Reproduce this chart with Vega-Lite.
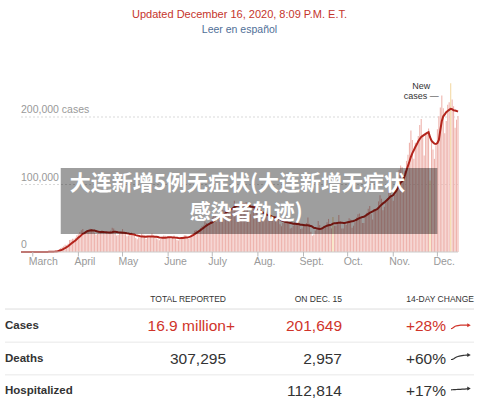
{
"$schema": "https://vega.github.io/schema/vega-lite/v6.json",
"width": 500, "height": 403, "autosize": {"type": "none"}, "padding": 0, "background": "white",
"config": {"view": {"stroke": null}, "axis": {"disable": true}, "legend": {"disable": true}, "font": "Liberation Sans"},
"datasets": {
"days": [
{"d":"2020-02-22","c":0,"a":0},{"d":"2020-02-23","c":0,"a":0},{"d":"2020-02-24","c":1,"a":0},{"d":"2020-02-25","c":0,"a":0},{"d":"2020-02-26","c":2,"a":0},{"d":"2020-02-27","c":3,"a":1},{"d":"2020-02-28","c":3,"a":1},{"d":"2020-02-29","c":9,"a":2},
{"d":"2020-03-01","c":10,"a":4},{"d":"2020-03-02","c":20,"a":7},{"d":"2020-03-03","c":24,"a":10},{"d":"2020-03-04","c":22,"a":13},{"d":"2020-03-05","c":73,"a":23},{"d":"2020-03-06","c":70,"a":33},{"d":"2020-03-07","c":100,"a":46},{"d":"2020-03-08","c":120,"a":61},{"d":"2020-03-09","c":180,"a":84},{"d":"2020-03-10","c":290,"a":122},{"d":"2020-03-11","c":360,"a":170},{"d":"2020-03-12","c":470,"a":227},{"d":"2020-03-13","c":660,"a":311},{"d":"2020-03-14","c":720,"a":400},{"d":"2020-03-15","c":1000,"a":526},{"d":"2020-03-16","c":1300,"a":686},{"d":"2020-03-17","c":1800,"a":901},{"d":"2020-03-18","c":2800,"a":1250},{"d":"2020-03-19","c":4600,"a":1840},{"d":"2020-03-20","c":5900,"a":2589},{"d":"2020-03-21","c":6900,"a":3471},{"d":"2020-03-22","c":8700,"a":4571},{"d":"2020-03-23","c":10600,"a":5900},{"d":"2020-03-24","c":10100,"a":7086},{"d":"2020-03-25","c":12400,"a":8457},{"d":"2020-03-26","c":17800,"a":10343},{"d":"2020-03-27","c":18300,"a":12114},{"d":"2020-03-28","c":19600,"a":13929},{"d":"2020-03-29","c":19800,"a":15514},{"d":"2020-03-30","c":21000,"a":17000},{"d":"2020-03-31","c":24900,"a":19114},
{"d":"2020-04-01","c":26200,"a":21300},{"d":"2020-04-02","c":29700,"a":23000},{"d":"2020-04-03","c":32100,"a":25000},{"d":"2020-04-04","c":33900,"a":27000},{"d":"2020-04-05","c":28400,"a":28100},{"d":"2020-04-06","c":29600,"a":29500},{"d":"2020-04-07","c":31800,"a":30800},{"d":"2020-04-08","c":32300,"a":31600},{"d":"2020-04-09","c":34500,"a":32000},{"d":"2020-04-10","c":34100,"a":32300},{"d":"2020-04-11","c":30600,"a":31900},{"d":"2020-04-12","c":28400,"a":31800},{"d":"2020-04-13","c":25500,"a":31000},{"d":"2020-04-14","c":26900,"a":30300},{"d":"2020-04-15","c":29700,"a":29900},{"d":"2020-04-16","c":31100,"a":29700},{"d":"2020-04-17","c":32100,"a":29600},{"d":"2020-04-18","c":29800,"a":29500},{"d":"2020-04-19","c":26900,"a":29300},{"d":"2020-04-20","c":28000,"a":29400},{"d":"2020-04-21","c":26800,"a":28900},{"d":"2020-04-22","c":29200,"a":28800},{"d":"2020-04-23","c":31900,"a":28900},{"d":"2020-04-24","c":36100,"a":29300},{"d":"2020-04-25","c":34800,"a":30000},{"d":"2020-04-26","c":28300,"a":30000},{"d":"2020-04-27","c":24600,"a":29700},{"d":"2020-04-28","c":25100,"a":29300},{"d":"2020-04-29","c":27400,"a":29000},{"d":"2020-04-30","c":29600,"a":28800},
{"d":"2020-05-01","c":33900,"a":28600},{"d":"2020-05-02","c":28800,"a":28400},{"d":"2020-05-03","c":26600,"a":28200},{"d":"2020-05-04","c":23400,"a":27700},{"d":"2020-05-05","c":24300,"a":27300},{"d":"2020-05-06","c":25400,"a":26700},{"d":"2020-05-07","c":28800,"a":26700},{"d":"2020-05-08","c":27600,"a":26100},{"d":"2020-05-09","c":25700,"a":25800},{"d":"2020-05-10","c":20600,"a":25000},{"d":"2020-05-11","c":18800,"a":24300},{"d":"2020-05-12","c":22000,"a":23900},{"d":"2020-05-13","c":21500,"a":23300},{"d":"2020-05-14","c":27100,"a":23100},{"d":"2020-05-15","c":25600,"a":22800},{"d":"2020-05-16","c":24800,"a":22700},{"d":"2020-05-17","c":19100,"a":22500},{"d":"2020-05-18","c":22600,"a":23000},{"d":"2020-05-19","c":21100,"a":22900},{"d":"2020-05-20","c":22700,"a":23000},{"d":"2020-05-21","c":27300,"a":23000},{"d":"2020-05-22","c":24100,"a":22800},{"d":"2020-05-23","c":23200,"a":22600},{"d":"2020-05-24","c":19900,"a":22700},{"d":"2020-05-25","c":18900,"a":22100},{"d":"2020-05-26","c":17500,"a":21400},{"d":"2020-05-27","c":19800,"a":21300},{"d":"2020-05-28","c":22700,"a":21000},{"d":"2020-05-29","c":24500,"a":21000},{"d":"2020-05-30","c":24200,"a":21200},{"d":"2020-05-31","c":20900,"a":21400},
{"d":"2020-06-01","c":20700,"a":21800},{"d":"2020-06-02","c":21300,"a":21800},{"d":"2020-06-03","c":19500,"a":21800},{"d":"2020-06-04","c":21600,"a":21500},{"d":"2020-06-05","c":24600,"a":21500},{"d":"2020-06-06","c":22300,"a":21300},{"d":"2020-06-07","c":17900,"a":21000},{"d":"2020-06-08","c":17200,"a":20700},{"d":"2020-06-09","c":18100,"a":20500},{"d":"2020-06-10","c":20900,"a":20700},{"d":"2020-06-11","c":22500,"a":20900},{"d":"2020-06-12","c":24900,"a":21200},{"d":"2020-06-13","c":25000,"a":21400},{"d":"2020-06-14","c":19900,"a":21600},{"d":"2020-06-15","c":19700,"a":22000},{"d":"2020-06-16","c":23300,"a":22800},{"d":"2020-06-17","c":25900,"a":23800},{"d":"2020-06-18","c":27800,"a":25000},{"d":"2020-06-19","c":31400,"a":26500},{"d":"2020-06-20","c":32500,"a":28000},{"d":"2020-06-21","c":27700,"a":29500},{"d":"2020-06-22","c":29100,"a":31000},{"d":"2020-06-23","c":35600,"a":32500},{"d":"2020-06-24","c":38100,"a":34000},{"d":"2020-06-25","c":39400,"a":35700},{"d":"2020-06-26","c":45300,"a":37500},{"d":"2020-06-27","c":43100,"a":39000},{"d":"2020-06-28","c":40900,"a":40500},{"d":"2020-06-29","c":41400,"a":41800},{"d":"2020-06-30","c":45800,"a":43000},
{"d":"2020-07-01","c":51000,"a":44000},{"d":"2020-07-02","c":54000,"a":46000},{"d":"2020-07-03","c":57000,"a":48000},{"d":"2020-07-04","c":45000,"a":49000},{"d":"2020-07-05","c":49000,"a":50500},{"d":"2020-07-06","c":48000,"a":51500},{"d":"2020-07-07","c":58000,"a":52500},{"d":"2020-07-08","c":62000,"a":54000},{"d":"2020-07-09","c":62000,"a":55500},{"d":"2020-07-10","c":68000,"a":57500},{"d":"2020-07-11","c":62000,"a":59500},{"d":"2020-07-12","c":60000,"a":61000},{"d":"2020-07-13","c":59000,"a":62500},{"d":"2020-07-14","c":63000,"a":63500},{"d":"2020-07-15","c":67000,"a":64500},{"d":"2020-07-16","c":76000,"a":66500},{"d":"2020-07-17","c":71000,"a":68000},{"d":"2020-07-18","c":64000,"a":68500},{"d":"2020-07-19","c":62000,"a":69000},{"d":"2020-07-20","c":63000,"a":69500},{"d":"2020-07-21","c":66000,"a":70000},{"d":"2020-07-22","c":70000,"a":70500},{"d":"2020-07-23","c":70000,"a":70500},{"d":"2020-07-24","c":74000,"a":70000},{"d":"2020-07-25","c":67000,"a":69500},{"d":"2020-07-26","c":55000,"a":68500},{"d":"2020-07-27","c":56000,"a":67500},{"d":"2020-07-28","c":64000,"a":67000},{"d":"2020-07-29","c":70000,"a":66500},{"d":"2020-07-30","c":68000,"a":66000},{"d":"2020-07-31","c":68000,"a":65000},
{"d":"2020-08-01","c":58000,"a":63500},{"d":"2020-08-02","c":47000,"a":62000},{"d":"2020-08-03","c":47000,"a":60500},{"d":"2020-08-04","c":51000,"a":59000},{"d":"2020-08-05","c":53000,"a":57500},{"d":"2020-08-06","c":56000,"a":56500},{"d":"2020-08-07","c":60000,"a":55500},{"d":"2020-08-08","c":54000,"a":54500},{"d":"2020-08-09","c":46000,"a":54000},{"d":"2020-08-10","c":47000,"a":53000},{"d":"2020-08-11","c":50000,"a":52000},{"d":"2020-08-12","c":53000,"a":51500},{"d":"2020-08-13","c":51000,"a":51000},{"d":"2020-08-14","c":58000,"a":50500},{"d":"2020-08-15","c":52000,"a":49500},{"d":"2020-08-16","c":41000,"a":48500},{"d":"2020-08-17","c":38000,"a":47000},{"d":"2020-08-18","c":43000,"a":46000},{"d":"2020-08-19","c":46000,"a":45000},{"d":"2020-08-20","c":45000,"a":44500},{"d":"2020-08-21","c":48000,"a":44000},{"d":"2020-08-22","c":44000,"a":43500},{"d":"2020-08-23","c":35000,"a":43000},{"d":"2020-08-24","c":36000,"a":42500},{"d":"2020-08-25","c":39000,"a":42000},{"d":"2020-08-26","c":44000,"a":42000},{"d":"2020-08-27","c":45000,"a":41500},{"d":"2020-08-28","c":47000,"a":41500},{"d":"2020-08-29","c":43000,"a":41000},{"d":"2020-08-30","c":34000,"a":40500},{"d":"2020-08-31","c":35000,"a":40500},
{"d":"2020-09-01","c":41000,"a":40000},{"d":"2020-09-02","c":39000,"a":39500},{"d":"2020-09-03","c":43000,"a":39500},{"d":"2020-09-04","c":51000,"a":39500},{"d":"2020-09-05","c":42000,"a":39000},{"d":"2020-09-06","c":30000,"a":38500},{"d":"2020-09-07","c":24000,"a":37500},{"d":"2020-09-08","c":26000,"a":36000},{"d":"2020-09-09","c":32000,"a":35500},{"d":"2020-09-10","c":35000,"a":35000},{"d":"2020-09-11","c":46000,"a":34500},{"d":"2020-09-12","c":40000,"a":34000},{"d":"2020-09-13","c":33000,"a":34500},{"d":"2020-09-14","c":34000,"a":35500},{"d":"2020-09-15","c":39000,"a":37000},{"d":"2020-09-16","c":39000,"a":38000},{"d":"2020-09-17","c":44000,"a":39000},{"d":"2020-09-18","c":49000,"a":39500},{"d":"2020-09-19","c":42000,"a":40000},{"d":"2020-09-20","c":35000,"a":40500},{"d":"2020-09-21","c":52000,"a":42000,"x":1},{"d":"2020-09-22","c":39000,"a":42500},{"d":"2020-09-23","c":39000,"a":42500},{"d":"2020-09-24","c":44000,"a":43000},{"d":"2020-09-25","c":55000,"a":43500},{"d":"2020-09-26","c":46000,"a":43500},{"d":"2020-09-27","c":35000,"a":43500},{"d":"2020-09-28","c":35000,"a":43000},{"d":"2020-09-29","c":43000,"a":43000},{"d":"2020-09-30","c":40000,"a":43500},
{"d":"2020-10-01","c":45000,"a":44000},{"d":"2020-10-02","c":50000,"a":44500},{"d":"2020-10-03","c":48000,"a":45000},{"d":"2020-10-04","c":36000,"a":45500},{"d":"2020-10-05","c":39000,"a":46000},{"d":"2020-10-06","c":44000,"a":46800},{"d":"2020-10-07","c":51000,"a":47800},{"d":"2020-10-08","c":56000,"a":49000},{"d":"2020-10-09","c":57000,"a":50200},{"d":"2020-10-10","c":53000,"a":51000},{"d":"2020-10-11","c":43000,"a":51800},{"d":"2020-10-12","c":43000,"a":52300},{"d":"2020-10-13","c":52000,"a":53500},{"d":"2020-10-14","c":58000,"a":55000},{"d":"2020-10-15","c":64000,"a":56500},{"d":"2020-10-16","c":68000,"a":58000},{"d":"2020-10-17","c":56000,"a":59000},{"d":"2020-10-18","c":48000,"a":60000},{"d":"2020-10-19","c":63000,"a":61500},{"d":"2020-10-20","c":61000,"a":62500},{"d":"2020-10-21","c":63000,"a":63500},{"d":"2020-10-22","c":75000,"a":65500},{"d":"2020-10-23","c":84000,"a":68000},{"d":"2020-10-24","c":79000,"a":70000},{"d":"2020-10-25","c":62000,"a":72000},{"d":"2020-10-26","c":67000,"a":73500},{"d":"2020-10-27","c":74000,"a":75500},{"d":"2020-10-28","c":80000,"a":77500},{"d":"2020-10-29","c":91000,"a":79500},{"d":"2020-10-30","c":99000,"a":82000},{"d":"2020-10-31","c":84000,"a":83000},
{"d":"2020-11-01","c":76000,"a":84500},{"d":"2020-11-02","c":85000,"a":87500},{"d":"2020-11-03","c":92000,"a":90500},{"d":"2020-11-04","c":104000,"a":94500},{"d":"2020-11-05","c":122000,"a":99000},{"d":"2020-11-06","c":128000,"a":102500},{"d":"2020-11-07","c":126000,"a":104500},{"d":"2020-11-08","c":106000,"a":108000},{"d":"2020-11-09","c":120000,"a":114000},{"d":"2020-11-10","c":135000,"a":121000},{"d":"2020-11-11","c":144000,"a":127500},{"d":"2020-11-12","c":162000,"a":134000},{"d":"2020-11-13","c":180000,"a":141000},{"d":"2020-11-14","c":166000,"a":146500},{"d":"2020-11-15","c":138000,"a":151000},{"d":"2020-11-16","c":162000,"a":155500},{"d":"2020-11-17","c":160000,"a":159500},{"d":"2020-11-18","c":172000,"a":164000},{"d":"2020-11-19","c":188000,"a":167500},{"d":"2020-11-20","c":197000,"a":170500},{"d":"2020-11-21","c":173000,"a":172000},{"d":"2020-11-22","c":143000,"a":173500},{"d":"2020-11-23","c":174000,"a":175000},{"d":"2020-11-24","c":175000,"a":176500},{"d":"2020-11-25","c":183000,"a":177500},{"d":"2020-11-26","c":106000,"a":170000,"x":1},{"d":"2020-11-27","c":165000,"a":165000},{"d":"2020-11-28","c":152000,"a":162500},{"d":"2020-11-29","c":138000,"a":160500},{"d":"2020-11-30","c":158000,"a":160000},
{"d":"2020-12-01","c":182000,"a":161500},{"d":"2020-12-02","c":201000,"a":166000},{"d":"2020-12-03","c":214000,"a":181000},{"d":"2020-12-04","c":232000,"a":194000},{"d":"2020-12-05","c":213000,"a":201000},{"d":"2020-12-06","c":176000,"a":204000},{"d":"2020-12-07","c":194000,"a":207000},{"d":"2020-12-08","c":218000,"a":209000},{"d":"2020-12-09","c":222000,"a":210500},{"d":"2020-12-10","c":250000,"a":212000,"x":1},{"d":"2020-12-11","c":226000,"a":211500},{"d":"2020-12-12","c":216000,"a":210000},{"d":"2020-12-13","c":184000,"a":209500},{"d":"2020-12-14","c":196000,"a":209000},{"d":"2020-12-15","c":201649,"a":208000}
],
"months": [{"d":"2020-03-01","m":"March"},{"d":"2020-04-01","m":"April"},{"d":"2020-05-01","m":"May"},{"d":"2020-06-01","m":"June"},{"d":"2020-07-01","m":"July"},{"d":"2020-08-01","m":"Aug."},{"d":"2020-09-01","m":"Sept."},{"d":"2020-10-01","m":"Oct."},{"d":"2020-11-01","m":"Nov."},{"d":"2020-12-01","m":"Dec."}],
"ylabels": [{"v":0,"l":"0"},{"v":100000,"l":"100,000"},{"v":200000,"l":"200,000 cases"}],
"texts": [
{"k":"title","row":0,"col":2,"t":"Updated December 16, 2020, 8:09 P.M. E.T."},
{"k":"sub","row":1,"col":2,"t":"Leer en español"},
{"k":"head","row":2,"col":1,"t":"TOTAL REPORTED"},
{"k":"head","row":2,"col":3,"t":"ON DEC. 15"},
{"k":"head","row":2,"col":5,"t":"14-DAY CHANGE"},
{"k":"label","row":3,"col":0,"t":"Cases"},
{"k":"label","row":4,"col":0,"t":"Deaths"},
{"k":"label","row":5,"col":0,"t":"Hospitalized"},
{"k":"hang","row":3,"col":1,"t":"16.9 million+"},
{"k":"red","row":3,"col":3,"t":"201,649"},
{"k":"red","row":3,"col":4,"t":"+28%"},
{"k":"num","row":4,"col":1,"t":"307,295"},
{"k":"num","row":4,"col":3,"t":"2,957"},
{"k":"num","row":4,"col":4,"t":"+60%"},
{"k":"num","row":5,"col":3,"t":"112,814"},
{"k":"num","row":5,"col":4,"t":"+17%"}
],
"spark": [
{"m":"Cases","i":0,"v":161500},{"m":"Cases","i":1,"v":166000},{"m":"Cases","i":2,"v":181000},{"m":"Cases","i":3,"v":194000},{"m":"Cases","i":4,"v":201000},{"m":"Cases","i":5,"v":204000},{"m":"Cases","i":6,"v":207000},{"m":"Cases","i":7,"v":209000},{"m":"Cases","i":8,"v":210500},{"m":"Cases","i":9,"v":212000},{"m":"Cases","i":10,"v":211500},{"m":"Cases","i":11,"v":210000},{"m":"Cases","i":12,"v":209500},{"m":"Cases","i":13,"v":209000},
{"m":"Deaths","i":0,"v":1540},{"m":"Deaths","i":1,"v":1580},{"m":"Deaths","i":2,"v":1700},{"m":"Deaths","i":3,"v":1900},{"m":"Deaths","i":4,"v":2050},{"m":"Deaths","i":5,"v":2150},{"m":"Deaths","i":6,"v":2220},{"m":"Deaths","i":7,"v":2280},{"m":"Deaths","i":8,"v":2330},{"m":"Deaths","i":9,"v":2380},{"m":"Deaths","i":10,"v":2410},{"m":"Deaths","i":11,"v":2430},{"m":"Deaths","i":12,"v":2450},{"m":"Deaths","i":13,"v":2460},
{"m":"Hosp","i":0,"v":96400},{"m":"Hosp","i":1,"v":97000},{"m":"Hosp","i":2,"v":98500},{"m":"Hosp","i":3,"v":99500},{"m":"Hosp","i":4,"v":100500},{"m":"Hosp","i":5,"v":101500},{"m":"Hosp","i":6,"v":102500},{"m":"Hosp","i":7,"v":103500},{"m":"Hosp","i":8,"v":104500},{"m":"Hosp","i":9,"v":105500},{"m":"Hosp","i":10,"v":106500},{"m":"Hosp","i":11,"v":108000},{"m":"Hosp","i":12,"v":109500},{"m":"Hosp","i":13,"v":112800}
]
},
"resolve": {"scale": {"x": "independent", "y": "independent"}},
"layer": [
{
"layer": [
{"data": {"name": "ylabels"}, "transform": [{"filter": "datum.v > 0"}],
 "mark": {"type": "rule", "color": "#d9d9d9", "strokeDash": [2, 2], "strokeWidth": 1},
 "encoding": {
  "x": {"datum": {"year": 2020, "month": 2, "date": 22, "utc": true}, "type": "temporal", "axis": null,
        "scale": {"domain": [{"year": 2020, "month": 2, "date": 22, "utc": true}, {"year": 2020, "month": 12, "date": 15, "utc": true}], "range": [21, 458], "padding": 0}},
  "x2": {"datum": {"year": 2020, "month": 12, "date": 15, "utc": true}},
  "y": {"field": "v", "type": "quantitative", "axis": null, "scale": {"domain": [0, 100000], "range": [252, 184.5], "nice": false, "zero": false, "padding": 0}}
 }},
{"data": {"name": "days"}, "transform": [{"filter": "!datum.x"}],
 "mark": {"type": "bar", "color": "#eeb4ae", "width": 1.1},
 "encoding": {"x": {"field": "d", "type": "temporal"}, "y": {"field": "c", "type": "quantitative"}}},
{"data": {"name": "days"}, "transform": [{"filter": "datum.x"}],
 "mark": {"type": "bar", "color": "#f5dfb3", "width": 1.3},
 "encoding": {"x": {"field": "d", "type": "temporal"}, "y": {"field": "c", "type": "quantitative"}}},
{"data": {"name": "days"},
 "mark": {"type": "line", "color": "#b3241c", "strokeWidth": 2},
 "encoding": {"x": {"field": "d", "type": "temporal"}, "y": {"field": "a", "type": "quantitative"}}},
{"data": {"name": "ylabels"}, "transform": [{"filter": "datum.v == 0"}],
 "mark": {"type": "rule", "color": "#cccccc", "strokeWidth": 1},
 "encoding": {
  "x": {"datum": {"year": 2020, "month": 2, "date": 22, "utc": true}, "type": "temporal"},
  "x2": {"datum": {"year": 2020, "month": 12, "date": 15, "utc": true}},
  "y": {"field": "v", "type": "quantitative"}}},
{"data": {"name": "ylabels"},
 "mark": {"type": "text", "align": "left", "baseline": "alphabetic", "dy": -4, "fontSize": 10.5, "color": "#999999"},
 "encoding": {
  "x": {"datum": {"year": 2020, "month": 2, "date": 22, "utc": true}, "type": "temporal"},
  "y": {"field": "v", "type": "quantitative"},
  "text": {"field": "l"}}},
{"data": {"name": "months"},
 "mark": {"type": "rule", "color": "#bbbbbb", "strokeWidth": 1},
 "encoding": {"x": {"field": "d", "type": "temporal"}, "y": {"datum": 0, "type": "quantitative"}, "y2": {"datum": -6700}}},
{"data": {"name": "months"},
 "mark": {"type": "text", "align": "left", "baseline": "top", "dx": -4, "dy": 5, "fontSize": 10.5, "color": "#999999"},
 "encoding": {"x": {"field": "d", "type": "temporal"}, "y": {"datum": 0, "type": "quantitative"}, "text": {"field": "m"}}},
{"data": {"values": [{"t": "New", "d": "2020-11-20", "v": 241500}, {"t": "cases —", "d": "2020-11-20", "v": 226700}]},
 "mark": {"type": "text", "align": "center", "baseline": "alphabetic", "fontSize": 9, "color": "#333333"},
 "encoding": {"x": {"field": "d", "type": "temporal"}, "y": {"field": "v", "type": "quantitative"}, "text": {"field": "t"}}},
{"data": {"values": [{"d1": "2020-03-20", "d2": "2020-12-01", "v1": 26700, "v2": 124400}]},
 "mark": {"type": "rect", "color": "#000000", "opacity": 0.38},
 "encoding": {"x": {"field": "d1", "type": "temporal"}, "x2": {"field": "d2"}, "y": {"field": "v1", "type": "quantitative"}, "y2": {"field": "v2"}}},
{"data": {"values": [{"t": "大连新增5例无症状(大连新增无症状", "d": "2020-07-18", "v": 100700}, {"t": "感染者轨迹)", "d": "2020-07-24", "v": 57800}]},
 "mark": {"type": "text", "align": "center", "baseline": "middle", "font": "Noto Sans CJK SC", "fontWeight": "bold", "fontSize": 21, "color": "#ffffff"},
 "encoding": {"x": {"field": "d", "type": "temporal"}, "y": {"field": "v", "type": "quantitative"}, "text": {"field": "t"}}}
]
},
{
"data": {"name": "texts"},
"layer": [
{"transform": [{"filter": "datum.k == 'title'"}],
 "mark": {"type": "text", "align": "center", "baseline": "middle", "fontSize": 11, "color": "#c5352c"},
 "encoding": {
  "x": {"field": "col", "type": "quantitative", "axis": null, "scale": {"domain": [0, 1, 2, 3, 4, 5], "range": [5, 226, 239.5, 342, 446, 474], "nice": false, "zero": false}},
  "y": {"field": "row", "type": "quantitative", "axis": null, "scale": {"domain": [0, 1, 2, 3, 4, 5], "range": [14.5, 29.8, 299.3, 325.6, 358.7, 391], "nice": false, "zero": false}},
  "text": {"field": "t"}}},
{"transform": [{"filter": "datum.k == 'sub'"}],
 "mark": {"type": "text", "align": "center", "baseline": "middle", "fontSize": 10.5, "color": "#4f6f98"},
 "encoding": {"x": {"field": "col", "type": "quantitative"}, "y": {"field": "row", "type": "quantitative"}, "text": {"field": "t"}}},
{"transform": [{"filter": "datum.k == 'head'"}],
 "mark": {"type": "text", "align": "right", "baseline": "middle", "fontSize": 8.5, "color": "#333333"},
 "encoding": {"x": {"field": "col", "type": "quantitative"}, "y": {"field": "row", "type": "quantitative"}, "text": {"field": "t"}}},
{"transform": [{"filter": "datum.k == 'label'"}],
 "mark": {"type": "text", "align": "left", "baseline": "middle", "fontSize": 11.5, "fontWeight": "bold", "color": "#333333"},
 "encoding": {"x": {"field": "col", "type": "quantitative"}, "y": {"field": "row", "type": "quantitative"}, "text": {"field": "t"}}},
{"transform": [{"filter": "datum.k == 'hang'"}],
 "mark": {"type": "text", "align": "right", "baseline": "middle", "fontSize": 15.5, "dx": 9, "color": "#d0342a"},
 "encoding": {"x": {"field": "col", "type": "quantitative"}, "y": {"field": "row", "type": "quantitative"}, "text": {"field": "t"}}},
{"transform": [{"filter": "datum.k == 'red'"}],
 "mark": {"type": "text", "align": "right", "baseline": "middle", "fontSize": 15.5, "color": "#d0342a"},
 "encoding": {"x": {"field": "col", "type": "quantitative"}, "y": {"field": "row", "type": "quantitative"}, "text": {"field": "t"}}},
{"transform": [{"filter": "datum.k == 'num'"}],
 "mark": {"type": "text", "align": "right", "baseline": "middle", "fontSize": 15.5, "color": "#333333"},
 "encoding": {"x": {"field": "col", "type": "quantitative"}, "y": {"field": "row", "type": "quantitative"}, "text": {"field": "t"}}},
{"data": {"values": [{"r": 2.37}]},
 "mark": {"type": "rule", "color": "#dddddd", "strokeWidth": 1},
 "encoding": {"x": {"datum": 0, "type": "quantitative"}, "x2": {"datum": 5}, "y": {"field": "r", "type": "quantitative"}}},
{"data": {"values": [{"r": 3.5}, {"r": 4.5}]},
 "mark": {"type": "rule", "color": "#e8e8e8", "strokeWidth": 1},
 "encoding": {"x": {"datum": 0, "type": "quantitative"}, "x2": {"datum": 5}, "y": {"field": "r", "type": "quantitative"}}}
]
},
{
"data": {"name": "spark"}, "transform": [{"filter": "datum.m == 'Cases'"}],
"layer": [
{"mark": {"type": "line", "color": "#d0342a", "strokeWidth": 1.2},
 "encoding": {"x": {"field": "i", "type": "quantitative", "axis": null, "scale": {"domain": [0, 13], "range": [451, 469], "nice": false, "zero": false}},
              "y": {"field": "v", "type": "quantitative", "axis": null, "scale": {"domain": [161500, 212000], "range": [328.6, 325], "nice": false, "zero": false}}}},
{"transform": [{"filter": "datum.i == 13"}],
 "mark": {"type": "point", "shape": "triangle-right", "filled": true, "size": 16, "color": "#d0342a", "opacity": 1},
 "encoding": {"x": {"field": "i", "type": "quantitative"}, "y": {"field": "v", "type": "quantitative"}}}
]
},
{
"data": {"name": "spark"}, "transform": [{"filter": "datum.m == 'Deaths'"}],
"layer": [
{"mark": {"type": "line", "color": "#333333", "strokeWidth": 1.2},
 "encoding": {"x": {"field": "i", "type": "quantitative", "axis": null, "scale": {"domain": [0, 13], "range": [451, 469], "nice": false, "zero": false}},
              "y": {"field": "v", "type": "quantitative", "axis": null, "scale": {"domain": [1540, 2460], "range": [359.5, 355], "nice": false, "zero": false}}}},
{"transform": [{"filter": "datum.i == 13"}],
 "mark": {"type": "point", "shape": "triangle-right", "filled": true, "size": 16, "color": "#333333", "opacity": 1},
 "encoding": {"x": {"field": "i", "type": "quantitative"}, "y": {"field": "v", "type": "quantitative"}}}
]
},
{
"data": {"name": "spark"}, "transform": [{"filter": "datum.m == 'Hosp'"}],
"layer": [
{"mark": {"type": "line", "color": "#333333", "strokeWidth": 1.2},
 "encoding": {"x": {"field": "i", "type": "quantitative", "axis": null, "scale": {"domain": [0, 13], "range": [451, 469], "nice": false, "zero": false}},
              "y": {"field": "v", "type": "quantitative", "axis": null, "scale": {"domain": [96400, 112800], "range": [389.8, 388.6], "nice": false, "zero": false}}}},
{"transform": [{"filter": "datum.i == 13"}],
 "mark": {"type": "point", "shape": "triangle-right", "filled": true, "size": 16, "color": "#333333", "opacity": 1},
 "encoding": {"x": {"field": "i", "type": "quantitative"}, "y": {"field": "v", "type": "quantitative"}}}
]
}
]
}
